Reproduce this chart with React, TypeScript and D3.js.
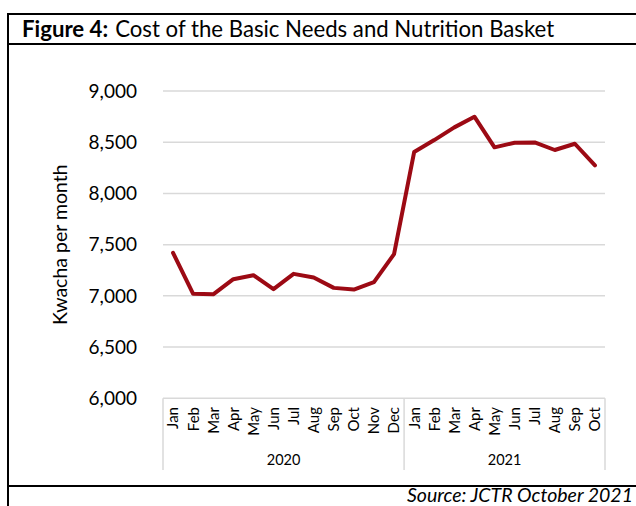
import React from "react";
import * as d3 from "d3";

// Monthly cost of the Basic Needs and Nutrition Basket (Kwacha per month)
const years = ["2020", "2021"];
const months2020 = ["Jan", "Feb", "Mar", "Apr", "May", "Jun", "Jul", "Aug", "Sep", "Oct", "Nov", "Dec"];
const months2021 = ["Jan", "Feb", "Mar", "Apr", "May", "Jun", "Jul", "Aug", "Sep", "Oct"];
const cost2020 = [7420, 7020, 7015, 7163, 7202, 7065, 7215, 7179, 7078, 7062, 7134, 7407];
const cost2021 = [8404, 8521, 8645, 8749, 8450, 8495, 8498, 8424, 8485, 8274];
const yTicks = [6000, 6500, 7000, 7500, 8000, 8500, 9000];

const W = 636;
const H = 506;
const FONT = "Lato, 'Open Sans', sans-serif";

type Point = { key: string; year: string; month: string; value: number };

const points: Point[] = [
  ...months2020.map((m, i) => ({ key: `2020-${m}`, year: years[0], month: m, value: cost2020[i] })),
  ...months2021.map((m, i) => ({ key: `2021-${m}`, year: years[1], month: m, value: cost2021[i] })),
];

export default function App() {
  const left = 163;
  const right = 605;
  const top = 91;
  const bottom = 398.3;

  const x = d3.scaleBand<string>().domain(points.map((p) => p.key)).range([left, right]).padding(0);
  const y = d3.scaleLinear().domain([6000, 9000]).range([bottom, top]);
  const cx = (k: string) => (x(k) ?? 0) + x.bandwidth() / 2;

  const line = d3
    .line<Point>()
    .x((p) => cx(p.key))
    .y((p) => y(p.value))
    .curve(d3.curveLinear);

  const fmt = d3.format(",");

  // year group boundaries on the category axis
  const groups = years.map((yr) => {
    const keys = points.filter((p) => p.year === yr).map((p) => p.key);
    const x0 = x(keys[0]) ?? 0;
    const x1 = (x(keys[keys.length - 1]) ?? 0) + x.bandwidth();
    return { yr, x0, x1 };
  });
  const sepXs = [groups[0].x0, ...groups.map((g) => g.x1)];

  return (
    <svg
      width={W}
      height={H}
      style={{ position: "absolute", left: 0, top: 0, background: "#fff" }}
      fontFamily={FONT}
    >
      {/* frame */}
      <line x1={8} x2={W} y1={14} y2={14} stroke="#000" strokeWidth={2} />
      <line x1={8} x2={W} y1={44} y2={44} stroke="#000" strokeWidth={2} />
      <line x1={8} x2={W} y1={486} y2={486} stroke="#000" strokeWidth={2} />
      <line x1={8} x2={8} y1={13} y2={H} stroke="#000" strokeWidth={2} />

      {/* title */}
      <text x={22} y={37} fontSize={22.2} fill="#000">
        <tspan fontWeight="bold">Figure 4:</tspan>
        <tspan dx={7}>Cost of the Basic Needs and Nutrition Basket</tspan>
      </text>

      {/* gridlines */}
      {yTicks.map((t) => (
        <line key={t} x1={left} x2={right} y1={y(t)} y2={y(t)} stroke="#D9D9D9" strokeWidth={1.5} />
      ))}

      {/* y tick labels */}
      {yTicks.map((t) => (
        <text key={t} x={137} y={y(t)} dy="0.36em" textAnchor="end" fontSize={19} fill="#000">
          {fmt(t)}
        </text>
      ))}

      {/* y axis title */}
      <text
        transform={`translate(60, ${(top + bottom) / 2}) rotate(-90)`}
        textAnchor="middle"
        dy="0.35em"
        fontSize={19.5}
        fill="#000"
      >
        Kwacha per month
      </text>

      {/* category axis separators */}
      {sepXs.map((sx, i) => (
        <line key={i} x1={sx} x2={sx} y1={bottom} y2={470} stroke="#D9D9D9" strokeWidth={1.5} />
      ))}

      {/* month labels */}
      {points.map((p) => (
        <text
          key={p.key}
          transform={`translate(${cx(p.key)}, 407) rotate(-90)`}
          textAnchor="end"
          dy="0.36em"
          fontSize={15}
          fill="#000"
        >
          {p.month}
        </text>
      ))}

      {/* year labels */}
      {groups.map((g) => (
        <text key={g.yr} x={(g.x0 + g.x1) / 2} y={460} dy="0.36em" textAnchor="middle" fontSize={14.5} fill="#000">
          {g.yr}
        </text>
      ))}

      {/* series */}
      <path d={line(points) ?? ""} fill="none" stroke="#9C0A14" strokeWidth={4} strokeLinejoin="round" strokeLinecap="round" />

      {/* source */}
      <text x={633} y={502} textAnchor="end" fontSize={19.5} fontStyle="italic" fill="#000">
        Source: JCTR October 2021
      </text>
    </svg>
  );
}
